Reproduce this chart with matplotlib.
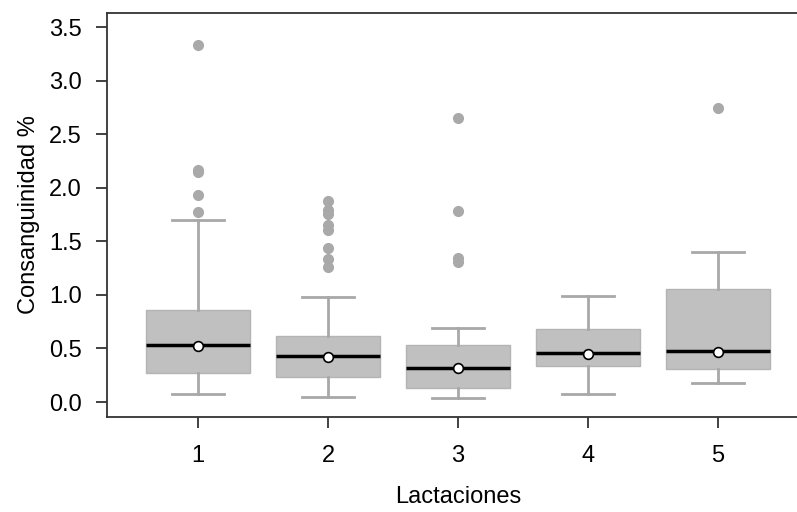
import matplotlib
matplotlib.use("Agg")
import matplotlib.pyplot as plt

plt.rcParams['font.family'] = ['Liberation Sans', 'DejaVu Sans']

categories = ["1", "2", "3", "4", "5"]
q1 = [0.27, 0.23, 0.13, 0.34, 0.305]
med = [0.53, 0.43, 0.32, 0.46, 0.475]
q3 = [0.86, 0.62, 0.53, 0.68, 1.055]
whislo = [0.075, 0.05, 0.04, 0.075, 0.18]
whishi = [1.70, 0.98, 0.69, 0.99, 1.40]
means = [0.52, 0.42, 0.32, 0.45, 0.47]
fliers = [
    [3.33, 2.17, 2.15, 1.93, 1.77],
    [1.88, 1.79, 1.76, 1.65, 1.61, 1.44, 1.335, 1.26],
    [2.65, 1.78, 1.34, 1.31],
    [],
    [2.745],
]
yticks = [0.0, 0.5, 1.0, 1.5, 2.0, 2.5, 3.0, 3.5]

stats = []
for i in range(len(categories)):
    stats.append(dict(label=categories[i], q1=q1[i], med=med[i], q3=q3[i],
                      whislo=whislo[i], whishi=whishi[i], mean=means[i],
                      fliers=fliers[i]))

fig = plt.figure(figsize=(7.97, 5.12), dpi=100)
ax = fig.add_axes([107/797, 95/512, 702/797, 404/512])

positions = list(range(1, len(categories) + 1))
ax.bxp(stats, positions=positions, widths=0.8, patch_artist=True,
       showmeans=True, showfliers=True,
       boxprops=dict(facecolor='#c0c0c0', edgecolor='#b4b4b4', linewidth=1.0),
       whiskerprops=dict(color='#a8a8a8', linewidth=2),
       capprops=dict(color='#a8a8a8', linewidth=2),
       capwidths=0.4,
       medianprops=dict(color='black', linewidth=2.5),
       meanprops=dict(marker='o', markerfacecolor='white', markeredgecolor='black',
                      markersize=7, markeredgewidth=1.2),
       flierprops=dict(marker='o', markerfacecolor='#a9a9a9', markeredgecolor='#a9a9a9',
                       markersize=7))

ax.set_xlim(0.3, 5.7)
ax.set_ylim(-0.14, 3.632)
ax.set_yticks(yticks)
ax.set_yticklabels([f"{v:.1f}" for v in yticks])
ax.set_xticks(positions)
ax.set_xticklabels(categories)
for s in ax.spines.values():
    s.set_color('#333333')
    s.set_linewidth(1.3)
ax.tick_params(axis='both', direction='out', length=8, width=1.3, color='#333333',
               labelsize=17, pad=10)
ax.tick_params(axis='x', pad=12)
ax.set_xlabel("Lactaciones", fontsize=17, labelpad=14)
ax.set_ylabel("Consanguinidad %", fontsize=17, labelpad=7)

fig.savefig("out.png", dpi=100)
